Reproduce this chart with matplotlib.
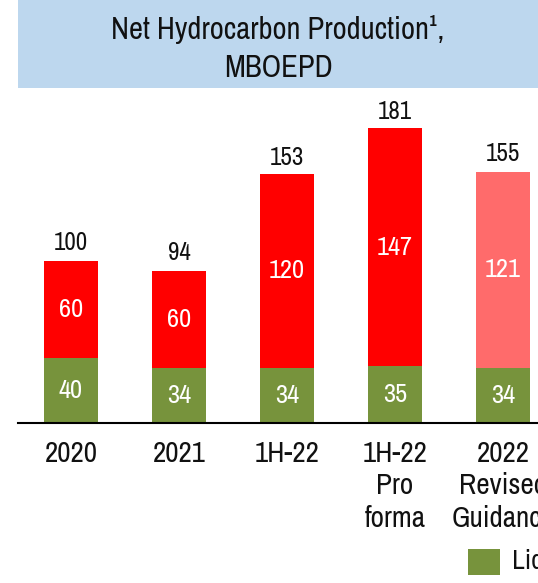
import matplotlib.pyplot as plt
from matplotlib.patches import Rectangle

plt.rcParams['font.family'] = ['Archivo Narrow', 'DejaVu Sans']

# data
categories = ['2020', '2021', '1H-22', '1H-22\nPro\nforma', '2022\nRevised\nGuidance']
liquids = [40, 34, 34, 35, 34]
gas = [60, 60, 120, 147, 121]
totals = [100, 94, 153, 181, 155]

green = '#77933C'
red = '#FF0000'
light_red = '#FF6B6B'
gas_colors = [red, red, red, red, light_red]

W, H = 538, 583
fig = plt.figure(figsize=(W / 100, H / 100), dpi=100)

# title box
fig.patches.append(Rectangle((18 / W, 1 - 88 / H), 1, 88 / H, transform=fig.transFigure,
                             facecolor='#BDD7EE', edgecolor='none', zorder=0))
fig.text(278 / W, 1 - 30 / H, 'Net Hydrocarbon Production¹,', ha='center', va='center',
         fontsize=22, color='#111111')
fig.text(278 / W, 1 - 68 / H, 'MBOEPD', ha='center', va='center', fontsize=22, color='#111111')

# axes: baseline at y=423 px
ax = fig.add_axes([18 / W, 1 - 423 / H, 1 - 18 / W, (423 - 95) / H])
x = list(range(len(categories)))
ax.bar(x, liquids, width=0.5, color=green)
ax.bar(x, gas, bottom=liquids, width=0.5, color=gas_colors)

for i in x:
    ax.text(i, liquids[i] / 2, str(liquids[i]), ha='center', va='center', color='white', fontsize=19)
    ax.text(i, liquids[i] + gas[i] / 2, str(gas[i]), ha='center', va='center', color='white', fontsize=19)
    ax.text(i, totals[i] + 6.5, str(totals[i]), ha='center', va='baseline', color='#111111', fontsize=18)

ax.set_xlim(-0.49, 4.324)
ax.set_ylim(0, 202.5)
ax.set_xticks(x)
ax.set_xticklabels(categories, fontsize=21, linespacing=1.25, va='top', color='#111111')
ax.tick_params(axis='x', length=0, pad=12)
ax.set_yticks([])
for s in ['top', 'right', 'left']:
    ax.spines[s].set_visible(False)
ax.spines['bottom'].set_color('black')
ax.spines['bottom'].set_linewidth(1.5)
ax.patch.set_visible(False)

# legend (cut off at the right edge)
fig.patches.append(Rectangle((468 / W, 1 - 575 / H), 32 / W, 26 / H, transform=fig.transFigure,
                             facecolor=green, edgecolor='none'))
fig.text(512 / W, 1 - 562 / H, 'Liquids', ha='left', va='center', fontsize=20, color='#111111')

fig.savefig('out.png', dpi=100)
